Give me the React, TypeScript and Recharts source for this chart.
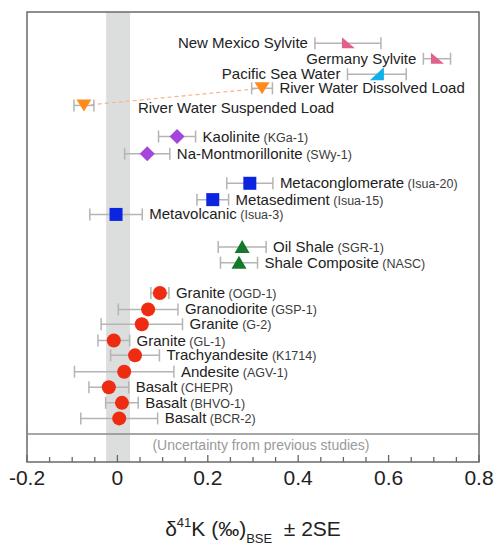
import React from "react";
import {
  ScatterChart,
  Scatter,
  XAxis,
  YAxis,
  ErrorBar,
  ReferenceArea,
  ReferenceLine,
} from "recharts";

// sample data (δ41K relative to BSE, ‰, with 2SE)
const SAMPLE_NAMES = [
  "New Mexico Sylvite",
  "Germany Sylvite",
  "Pacific Sea Water",
  "River Water Dissolved Load",
  "River Water Suspended Load",
  "Kaolinite",
  "Na-Montmorillonite",
  "Metaconglomerate",
  "Metasediment",
  "Metavolcanic",
  "Oil Shale",
  "Shale Composite",
  "Granite",
  "Granodiorite",
  "Granite",
  "Granite",
  "Trachyandesite",
  "Andesite",
  "Basalt",
  "Basalt",
  "Basalt",
];
const SAMPLE_CODES = [
  "", "", "", "", "",
  "KGa-1", "SWy-1",
  "Isua-20", "Isua-15", "Isua-3",
  "SGR-1", "NASC",
  "OGD-1", "GSP-1", "G-2", "GL-1", "K1714", "AGV-1", "CHEPR", "BHVO-1", "BCR-2",
];
const DELTA_41K = [
  0.51, 0.707, 0.574, 0.32, -0.074,
  0.132, 0.066,
  0.293, 0.211, -0.003,
  0.276, 0.269,
  0.094, 0.068, 0.054, -0.008, 0.039, 0.015, -0.019, 0.01, 0.004,
];
const ERR_2SE = [
  0.073, 0.03, 0.065, 0.023, 0.022,
  0.041, 0.05,
  0.051, 0.035, 0.058,
  0.053, 0.041,
  0.02, 0.066, 0.09, 0.035, 0.054, 0.11, 0.044, 0.036, 0.085,
];
// vertical slot of each sample (0 = top of plot)
const ROW = [
  2, 3, 4, 4.9, 6,
  8, 9.1,
  11, 12.05, 13,
  15.1, 16.1,
  18.05, 19.1, 20.05, 21.1, 22.05, 23.1, 24.1, 25.1, 26.1,
];
const GROUP = [
  "sylvite", "sylvite", "seawater", "river", "river",
  "clay", "clay",
  "isua", "isua", "isua",
  "shale", "shale",
  "igneous", "igneous", "igneous", "igneous", "igneous", "igneous", "igneous", "igneous", "igneous",
];

const UNCERT_CENTER = 0.3;
const UNCERT_HALF = 0.5;
const UNCERT_ROW = 27.1;
const UNCERT_TEXT = "(Uncertainty from previous studies)";

const BSE_BAND = [-0.025, 0.028];

const X_DOMAIN = [-0.2, 0.8];
const Y_DOMAIN = [0, 28.9];
const MINOR_TICKS = [
  -0.2, -0.15, -0.1, -0.05, 0, 0.05, 0.1, 0.15, 0.2, 0.25, 0.3, 0.35, 0.4,
  0.45, 0.5, 0.55, 0.6, 0.65, 0.7, 0.75, 0.8,
];
const MAJOR_LABELS: Record<string, string> = {
  "-0.2": "-0.2",
  "0": "0",
  "0.2": "0.2",
  "0.4": "0.4",
  "0.6": "0.6",
  "0.8": "0.8",
};

// layout
const CHART_W = 494;
const CHART_H = 549;
const MARGIN = { top: 12, right: 15, bottom: 0, left: 27 };
const PLOT_W = CHART_W - MARGIN.left - MARGIN.right;
const PX_PER_UNIT = PLOT_W / (X_DOMAIN[1] - X_DOMAIN[0]);
const FONT = "'Liberation Sans', Arial, Helvetica, sans-serif";

const COLORS: Record<string, string> = {
  sylvite: "#e0608f",
  seawater: "#10b0e8",
  river: "#ff8c1a",
  clay: "#a446dc",
  isua: "#0b24e0",
  shale: "#137a2c",
  igneous: "#ee2c12",
};

const LEFT_LABELS = new Set([0, 1, 2]);
const FAR_LABELS = new Set([4]);

const GROUPS = ["sylvite", "seawater", "river", "clay", "isua", "shale", "igneous"];

const seriesData = (group: string) =>
  SAMPLE_NAMES.map((name, i) => ({
    idx: i,
    name,
    code: SAMPLE_CODES[i],
    x: DELTA_41K[i],
    y: ROW[i],
    err: ERR_2SE[i],
  })).filter((d) => GROUP[d.idx] === group);

function Marker({ kind, cx, cy }: { kind: string; cx: number; cy: number }) {
  const fill = COLORS[kind];
  switch (kind) {
    case "sylvite":
      return <polygon points={`${cx - 6},${cy - 6} ${cx - 6},${cy + 5} ${cx + 7},${cy + 5}`} fill={fill} />;
    case "seawater":
      return <polygon points={`${cx + 7},${cy - 7} ${cx + 7},${cy + 6} ${cx - 7},${cy + 6}`} fill={fill} />;
    case "river":
      return <polygon points={`${cx - 7.5},${cy - 6} ${cx + 7.5},${cy - 6} ${cx},${cy + 6}`} fill={fill} />;
    case "clay":
      return <polygon points={`${cx},${cy - 7.5} ${cx + 7.5},${cy} ${cx},${cy + 7.5} ${cx - 7.5},${cy}`} fill={fill} />;
    case "isua":
      return <rect x={cx - 6.5} y={cy - 6.5} width={13} height={13} fill={fill} />;
    case "shale":
      return <polygon points={`${cx - 7.5},${cy + 6} ${cx + 7.5},${cy + 6} ${cx},${cy - 7}`} fill={fill} />;
    default:
      return <circle cx={cx} cy={cy} r={7} fill={fill} />;
  }
}

const pointShape = (kind: string) => (props: any) => {
  const { cx, cy, payload } = props;
  const errPx = payload.err * PX_PER_UNIT;
  let tx = cx + errPx + 7;
  let ty = cy + 5;
  let anchor: "start" | "end" = "start";
  if (LEFT_LABELS.has(payload.idx)) {
    tx = cx - errPx - 7;
    anchor = "end";
  } else if (FAR_LABELS.has(payload.idx)) {
    tx = cx + 54;
    ty = cy + 8;
  }
  return (
    <g>
      <Marker kind={kind} cx={cx} cy={cy} />
      <text x={tx} y={ty} textAnchor={anchor} fontFamily={FONT} fontSize={15} fill="#222">
        {payload.name}
        {payload.code ? (
          <tspan fontSize={12.5} fill="#3c3c3c">
            {" (" + payload.code + ")"}
          </tspan>
        ) : null}
      </text>
    </g>
  );
};

const uncertShape = (props: any) => {
  const { cx, cy } = props;
  return (
    <text x={cx + 8} y={cy + 16} textAnchor="middle" fontFamily={FONT} fontSize={14} fill="#9a9a9a">
      {UNCERT_TEXT}
    </text>
  );
};

const BottomTick = (props: any) => {
  const { x, y, payload } = props;
  const key = String(payload.value);
  const label = MAJOR_LABELS[key];
  const len = label !== undefined ? 7 : 5;
  return (
    <g>
      <line x1={x} y1={y} x2={x} y2={y - len} stroke="#666" strokeWidth={1.3} />
      {label !== undefined && (
        <text x={x} y={y + 23} textAnchor="middle" fontFamily={FONT} fontSize={21} fill="#222">
          {label}
        </text>
      )}
    </g>
  );
};

const TopTick = (props: any) => {
  const { x, y, payload } = props;
  const len = MAJOR_LABELS[String(payload.value)] !== undefined ? 7 : 5;
  return <line x1={x} y1={y} x2={x} y2={y + len} stroke="#666" strokeWidth={1.3} />;
};

const AxisTitle = (props: any) => {
  const vb = props.viewBox || {};
  const cx = vb.x + vb.width / 2;
  const y = vb.y + 74;
  return (
    <text x={cx} y={y} textAnchor="middle" fontFamily={FONT} fontSize={21} fill="#222">
      <tspan>δ</tspan>
      <tspan fontSize={13} dy={-9}>41</tspan>
      <tspan dy={9}>K (‰)</tspan>
      <tspan fontSize={13} dy={7}>BSE</tspan>
      <tspan dy={-7}>{"\u00a0\u00a0± 2SE"}</tspan>
    </text>
  );
};

export default function App() {
  const uncertData = [{ x: UNCERT_CENTER, y: UNCERT_ROW, err: UNCERT_HALF }];
  const riverLine = [
    { x: DELTA_41K[4], y: ROW[4] },
    { x: DELTA_41K[3], y: ROW[3] },
  ];

  return (
    <div style={{ position: "absolute", left: 0, top: 0, width: CHART_W, height: CHART_H }}>
      <ScatterChart width={CHART_W} height={CHART_H} margin={MARGIN}>
        <XAxis
          type="number"
          dataKey="x"
          domain={X_DOMAIN}
          ticks={MINOR_TICKS}
          interval={0}
          allowDataOverflow
          axisLine={false}
          tickLine={false}
          tickSize={0}
          tickMargin={0}
          tick={BottomTick}
          height={87}
          label={AxisTitle}
        />
        <XAxis
          xAxisId="top"
          orientation="top"
          type="number"
          domain={X_DOMAIN}
          ticks={MINOR_TICKS}
          interval={0}
          allowDataOverflow
          axisLine={false}
          tickLine={false}
          tickSize={0}
          tickMargin={0}
          tick={TopTick}
          height={0}
        />
        <YAxis type="number" dataKey="y" domain={Y_DOMAIN} reversed hide allowDataOverflow />

        <ReferenceArea x1={BSE_BAND[0]} x2={BSE_BAND[1]} fill="#dcdedd" fillOpacity={1} stroke="none" />
        <ReferenceArea
          x1={X_DOMAIN[0]}
          x2={X_DOMAIN[1]}
          y1={Y_DOMAIN[0]}
          y2={Y_DOMAIN[1]}
          fill="none"
          stroke="#6a6a6a"
          strokeWidth={1.5}
        />
        <ReferenceLine
          segment={riverLine}
          stroke="#f8b48a"
          strokeWidth={1.2}
          strokeDasharray="4 3"
        />

        <Scatter data={uncertData} shape={uncertShape} isAnimationActive={false}>
          <ErrorBar dataKey="err" direction="x" width={10} stroke="#8a8a8a" strokeWidth={1.5} />
        </Scatter>

        {GROUPS.map((g) => (
          <Scatter key={g} data={seriesData(g)} shape={pointShape(g)} isAnimationActive={false}>
            <ErrorBar dataKey="err" direction="x" width={6} stroke="#b4b4b4" strokeWidth={1.5} />
          </Scatter>
        ))}
      </ScatterChart>
    </div>
  );
}
